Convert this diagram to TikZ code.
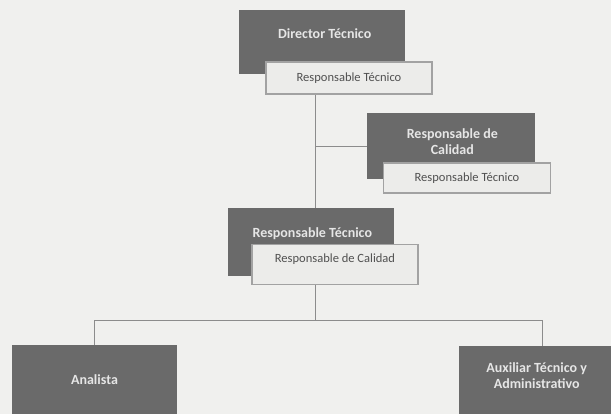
\documentclass[tikz,border=0pt]{standalone}
\usepackage{fontspec}
\setmainfont{Carlito}
\definecolor{paper}{HTML}{F0F0EE}
\definecolor{boxdark}{HTML}{6A6A6A}
\definecolor{boxlight}{HTML}{ECECEA}
\definecolor{edgegray}{HTML}{A2A2A2}
\definecolor{linegray}{HTML}{8C8C8C}
\definecolor{inkdark}{HTML}{505050}
\definecolor{inklight}{HTML}{E6E6E6}
\tikzset{
  darkbox/.style={rectangle, fill=boxdark, draw=none, inner sep=0pt},
  darklbl/.style={text=inklight, font=\fontsize{10.5}{12}\selectfont\bfseries, align=center},
  lightbox/.style={rectangle, fill=boxlight, draw=edgegray, line width=0.8pt, inner sep=0pt,
    text=inkdark, font=\fontsize{9.4}{11}\selectfont},
  conn/.style={draw=linegray, line width=0.7pt}
}
\begin{document}
\begin{tikzpicture}[x=0.75pt,y=0.75pt,yscale=-1,xscale=1]
\useasboundingbox (0,0) rectangle (611,414);
\fill[paper] (0,0) rectangle (611,414);
\coordinate (spine) at (315,320);
% boxes
\node[darkbox, minimum width=124.5pt, minimum height=48pt,
  label={[darklbl, xshift=2pt, yshift=6pt]center:Director Técnico}] (dir) at (322,42) {};
\node[darkbox, minimum width=126pt, minimum height=50pt,
  label={[darklbl, xshift=1pt, yshift=3.5pt]center:Responsable de\\Calidad}] (cal) at (451,146) {};
\node[darkbox, minimum width=124.5pt, minimum height=51pt,
  label={[darklbl, xshift=1pt, yshift=6pt]center:Responsable Técnico}] (rt) at (311,242) {};
\node[darkbox, minimum width=124pt, minimum height=52pt,
  label={[darklbl, yshift=0pt]center:Analista}] (ana) at (94.5,379.5) {};
\node[darkbox, minimum width=124.5pt, minimum height=51pt,
  label={[darklbl, xshift=-4pt, yshift=3.5pt]center:Auxiliar Técnico y\\Administrativo}] (aux) at (542,380) {};
% connectors
\draw[conn] (dir.south -| spine) -- (rt.north -| spine);
\draw[conn] (cal.west -| spine) -- (cal.west);
\draw[conn] (rt.south -| spine) -- (spine);
\draw[conn] (ana.north) -- (ana.north |- spine) -- (aux.north |- spine) -- (aux.north);
% sub boxes
\node[lightbox, minimum width=124.5pt, minimum height=24pt] (dirsub) at (349,78) {Responsable Técnico};
\node[lightbox, minimum width=125pt, minimum height=22.5pt] (calsub) at (467,178) {Responsable Técnico};
\node[lightbox, minimum width=124.5pt, minimum height=30pt, text depth=9pt] (rtsub) at (335,264.5) {Responsable de Calidad};
\end{tikzpicture}
\end{document}
